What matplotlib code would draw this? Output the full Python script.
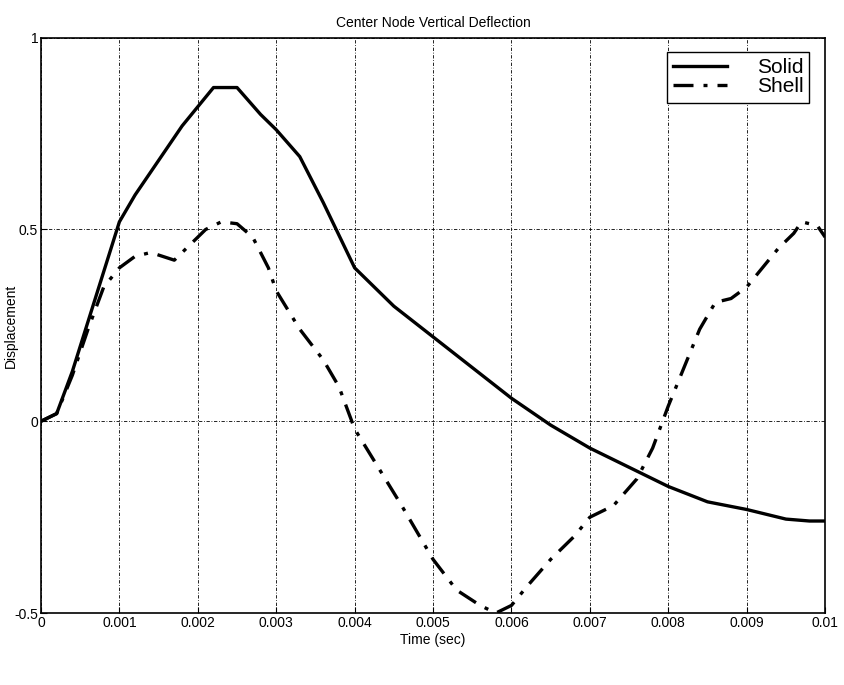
import matplotlib
matplotlib.use("Agg")
import matplotlib.pyplot as plt

# Time samples (sec) and displacement values
solid_t = [0, 0.0002, 0.0004, 0.0006, 0.0008, 0.001, 0.0012, 0.0015, 0.0018, 0.002,
           0.0022, 0.0025, 0.0028, 0.003, 0.0033, 0.0036, 0.004, 0.0045, 0.005,
           0.0055, 0.006, 0.0065, 0.007, 0.0075, 0.008, 0.0085, 0.009, 0.0095,
           0.0098, 0.01]
solid_y = [0, 0.02, 0.13, 0.26, 0.39, 0.52, 0.59, 0.68, 0.77, 0.82,
           0.87, 0.87, 0.80, 0.76, 0.69, 0.57, 0.40, 0.30, 0.22,
           0.14, 0.06, -0.01, -0.07, -0.12, -0.17, -0.21, -0.23, -0.255,
           -0.26, -0.26]

shell_t = [0, 0.0002, 0.0004, 0.0006, 0.0008, 0.001, 0.0012, 0.0014, 0.0017, 0.0019,
           0.0021, 0.0023, 0.0025, 0.0027, 0.0029, 0.003, 0.0033, 0.0036, 0.0038,
           0.004, 0.0043, 0.0046, 0.005, 0.0053, 0.0056, 0.0058, 0.006, 0.0062,
           0.0065, 0.0068, 0.007, 0.0073, 0.0076, 0.0078, 0.008, 0.0082, 0.0084,
           0.0086, 0.0088, 0.009, 0.0092, 0.0094, 0.0096, 0.0097, 0.0099, 0.01]
shell_y = [0, 0.02, 0.12, 0.24, 0.35, 0.40, 0.43, 0.44, 0.42, 0.46,
           0.50, 0.52, 0.515, 0.48, 0.40, 0.34, 0.24, 0.16, 0.09,
           -0.02, -0.12, -0.22, -0.36, -0.44, -0.48, -0.50, -0.48, -0.43,
           -0.36, -0.30, -0.25, -0.22, -0.15, -0.07, 0.04, 0.14, 0.24,
           0.31, 0.32, 0.35, 0.40, 0.45, 0.49, 0.52, 0.51, 0.48]

x_ticks = [0, 0.001, 0.002, 0.003, 0.004, 0.005, 0.006, 0.007, 0.008, 0.009, 0.01]
x_labels = ["0", "0.001", "0.002", "0.003", "0.004", "0.005", "0.006", "0.007",
            "0.008", "0.009", "0.01"]
y_ticks = [-0.5, 0, 0.5, 1]
y_labels = ["-0.5", "0", "0.5", "1"]

plt.rcParams["font.family"] = ["Liberation Sans", "DejaVu Sans"]

fig = plt.figure(figsize=(8.45, 6.85), dpi=100)
ax = fig.add_axes([0.0485, 0.105, 0.928, 0.84])

ax.plot(solid_t, solid_y, color="black", linewidth=2.4, linestyle="-", label="Solid")
ax.plot(shell_t, shell_y, color="black", linewidth=2.4, linestyle=(0, (6, 3, 1.2, 3)),
        label="Shell")

ax.set_xlim(0, 0.01)
ax.set_ylim(-0.5, 1)
ax.set_xticks(x_ticks)
ax.set_xticklabels(x_labels)
ax.set_yticks(y_ticks)
ax.set_yticklabels(y_labels)
ax.tick_params(direction="in", length=4, labelsize=10, pad=2, width=0.8)

ax.grid(True, color="black", linestyle=(0, (4, 2, 1, 2)), linewidth=0.6)
for s in ax.spines.values():
    s.set_linewidth(1.2)

ax.set_title("Center Node Vertical Deflection", fontsize=10, pad=8)
ax.set_xlabel("Time (sec)", fontsize=10, labelpad=2)
ax.set_ylabel("Displacement", fontsize=10)
ax.yaxis.set_label_coords(-0.029, 0.5)

leg = ax.legend(loc="upper right", bbox_to_anchor=(0.98, 0.975), fontsize=15,
                frameon=True, fancybox=False, edgecolor="black", framealpha=1,
                handlelength=2.6, handletextpad=1.4, borderpad=0.3,
                labelspacing=0.0, borderaxespad=0)
leg.get_frame().set_linewidth(1.0)

fig.savefig("out.png", dpi=100)
